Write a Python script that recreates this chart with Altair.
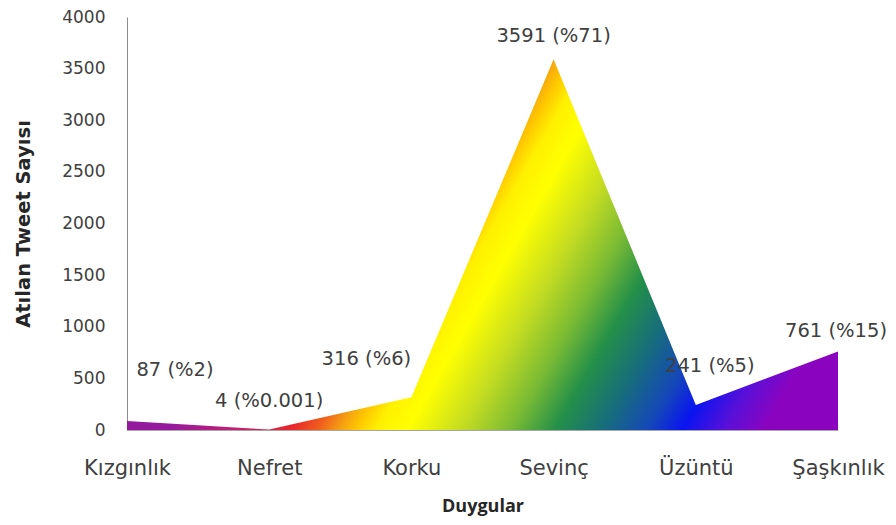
import altair as alt
import pandas as pd

# ---- data ----
categories = ["Kızgınlık", "Nefret", "Korku", "Sevinç", "Üzüntü", "Şaşkınlık"]
counts = [87, 4, 316, 3591, 241, 761]
labels = ["87 (%2)", "4 (%0.001)", "316 (%6)", "3591 (%71)", "241 (%5)", "761 (%15)"]
y_ticks = [0, 500, 1000, 1500, 2000, 2500, 3000, 3500, 4000]

# ---- styles ----
FONT = "DejaVu Sans"
label_offsets = [(48, -51), (0, -29), (-45, -38), (0, -23), (14, -39), (-2, -20)]
grad_stops = [
    (0.00, "#8E1AA0"), (0.23, "#951A9E"), (0.32, "#C42070"), (0.39, "#E8262A"),
    (0.425, "#F0601C"), (0.452, "#F4A012"), (0.475, "#FFC800"), (0.50, "#FFF000"),
    (0.54, "#FFFF00"), (0.61, "#C4DC22"), (0.675, "#78BA34"), (0.73, "#249048"),
    (0.79, "#176E7A"), (0.85, "#1548B8"), (0.895, "#0A14F0"), (0.95, "#5A10D8"),
    (1.00, "#8A04C0"),
]

df = pd.DataFrame({"cat": categories, "count": counts, "label": labels})

grad = alt.Gradient(
    gradient="linear",
    stops=[alt.GradientStop(offset=o, color=c) for o, c in grad_stops],
    x1=0, y1=0.35, x2=1, y2=0.65,
)

x_enc = alt.X(
    "cat:N", sort=categories,
    scale=alt.Scale(type="point", padding=0),
    axis=alt.Axis(
        title="Duygular", labelAngle=0, ticks=False, tickSize=0,
        labelPadding=27, labelFontSize=21, labelFont=FONT, labelColor="#404040",
        titleFont="Open Sans", titleFontSize=18, titleFontWeight="bold", titleColor="#262626",
        titlePadding=19, domainColor="#A6A6A6", domainWidth=1,
    ),
)
y_enc = alt.Y(
    "count:Q",
    scale=alt.Scale(domain=[0, 4000], nice=False),
    axis=alt.Axis(
        title="Atılan Tweet Sayısı", values=y_ticks, format="d", grid=False, ticks=False, tickSize=0,
        labelPadding=22, labelFontSize=17, labelFont=FONT, labelColor="#404040",
        titleFont=FONT, titleFontSize=19.5, titleFontWeight="bold", titleColor="#262626",
        titlePadding=28, domainColor="#8C8C8C", domainWidth=1,
    ),
)

area = alt.Chart(df).mark_area(color=grad).encode(x=x_enc, y=y_enc)

layers = [area]
for cat, (dx, dy) in zip(categories, label_offsets):
    layers.append(
        alt.Chart(df)
        .transform_filter(alt.datum.cat == cat)
        .mark_text(dx=dx, dy=dy, font=FONT, fontSize=19.5, color="#404040", baseline="middle", align="center")
        .encode(x=x_enc, y=y_enc, text="label:N")
    )

chart = (
    alt.layer(*layers)
    .properties(
        width=711, height=413,
        autosize=alt.AutoSizeParams(type="none"),
        padding={"left": 119, "top": 9, "right": 50, "bottom": 87},
    )
    .configure_view(stroke=None)
)

chart.save("out.html", embed_options={"renderer": "svg", "actions": False})
